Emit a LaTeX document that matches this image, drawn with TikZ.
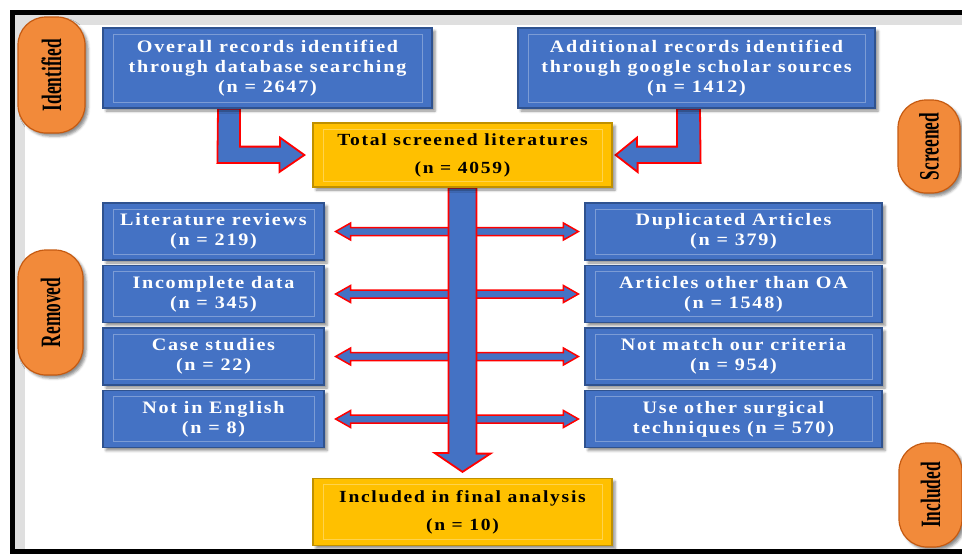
\documentclass[tikz,border=0pt]{standalone}
\usepackage{fontspec}
\setmainfont{Liberation Serif}
\newfontfamily\boxfont[LetterSpace=10, FakeStretch=1.15]{Liberation Serif}
\newfontfamily\pillfont[FakeStretch=0.62]{Liberation Serif}
\usetikzlibrary{calc,shadows.blur}
\pgfdeclarelayer{background}
\pgfsetlayers{background,main}
\definecolor{boxblue}{HTML}{4472C4}
\definecolor{boxedge}{HTML}{2F528F}
\definecolor{gold}{HTML}{FFC000}
\definecolor{goldedge}{HTML}{BF9000}
\definecolor{pillorange}{HTML}{F28A3A}
\definecolor{pilledge}{HTML}{C55A11}
\tikzstyle{blk}=[draw=boxedge, fill=boxblue, line width=1.2pt,
    text=white, align=center, minimum height=57pt,
    font=\boxfont\bfseries\fontsize{17.5}{20}\selectfont,
    blur shadow={shadow xshift=3pt, shadow yshift=-3pt,
      shadow blur radius=2.5pt, shadow opacity=45},
    path picture={\draw[white, opacity=.3, line width=1pt]
      ([shift={(10pt,-6pt)}]path picture bounding box.north west) rectangle
      ([shift={(-10pt,6pt)}]path picture bounding box.south east);}]
\tikzstyle{lblk}=[blk, minimum width=221pt]
\tikzstyle{rblk}=[blk, minimum width=297pt]
\tikzstyle{gblk}=[blk, draw=goldedge, fill=gold, text=black,
    minimum width=299pt,
    font=\boxfont\bfseries\fontsize{17}{28}\selectfont]
\tikzstyle{pill}=[draw=pilledge, fill=pillorange, line width=1.2pt,
    rounded corners=28pt, rotate=90, inner sep=0pt,
    font=\pillfont\bfseries\fontsize{28}{30}\selectfont,
    blur shadow={shadow xshift=3pt, shadow yshift=-3pt,
      shadow blur radius=2.5pt, shadow opacity=45}]
\tikzstyle{fat}=[fill=boxblue, draw=red, line width=1.8pt, line join=miter]
\def\rowgap{62.5}
% two-headed arrow between a left and a right box
\newcommand\twoway[2]{%
  \filldraw[fat, line width=1.5pt] let \p1=([xshift=11pt]#1.east),
    \p2=([xshift=-6pt]#2.west) in
    (\x1,\y1) -- (\x1+15pt,\y1+8.5pt) -- (\x1+15pt,\y1+4pt)
    -- (\x2-15pt,\y1+4pt) -- (\x2-15pt,\y1+8.5pt) -- (\x2,\y1)
    -- (\x2-15pt,\y1-8.5pt) -- (\x2-15pt,\y1-4pt)
    -- (\x1+15pt,\y1-4pt) -- (\x1+15pt,\y1-8.5pt) -- cycle;}

\begin{document}
\begin{tikzpicture}[x=1pt, y=-1pt]
    \useasboundingbox (0,0) rectangle (962,554);

    \node (overall) [blk, minimum width=329pt, minimum height=80pt] at (267.5,68)
      {Overall records identified\\through database searching\\(n = 2647)};
    \path (overall)+(429,0) node (additional) [blk, minimum width=357pt,
      minimum height=80pt] {Additional records identified\\through google scholar sources\\(n = 1412)};
    \node (total) [gblk, minimum height=64pt] at (462.5,155)
      {Total screened literatures\\(n = 4059)};

    \node (lit) [lblk] at (213.5,231.5) {Literature reviews\\(n = 219)};
    \path (lit)+(0,\rowgap) node (incomplete) [lblk] {Incomplete data\\(n = 345)};
    \path (incomplete)+(0,\rowgap) node (cases) [lblk] {Case studies\\(n = 22)};
    \path (cases)+(0,\rowgap) node (english) [lblk] {Not in English\\(n = 8)};

    \path (lit)+(520,0) node (dup) [rblk] {Duplicated Articles\\(n = 379)};
    \path (dup)+(0,\rowgap) node (oa) [rblk] {Articles other than OA\\(n = 1548)};
    \path (oa)+(0,\rowgap) node (criteria) [rblk] {Not match our criteria\\(n = 954)};
    \path (criteria)+(0,\rowgap) node (surgical) [rblk] {Use other surgical\\techniques (n = 570)};

    \node (final) [gblk, minimum height=67pt] at (462.5,512)
      {Included in final analysis\\(n = 10)};

    \node (identified) [pill, minimum width=116pt, minimum height=67pt] at (51.5,75) {Identified};
    \node (screened) [pill, minimum width=93pt, minimum height=62pt] at (929,146.5) {Screened};
    \node (removed) [pill, minimum width=125pt, minimum height=65pt] at (50.5,312.5) {Removed};
    \node (included) [pill, minimum width=104pt, minimum height=63pt] at (930.5,495) {Included};

    \begin{pgfonlayer}{background}
      % frame
      \fill[gray!25] (15,15) rectangle (962,25);
      \fill[gray!25] (15,15) rectangle (25,549);
      \draw[line width=5pt] (12.5,12.5) rectangle (990,551.5);
      % removed records
      \twoway{lit}{dup}
      \twoway{incomplete}{oa}
      \twoway{cases}{criteria}
      \twoway{english}{surgical}
      % main flow
      \filldraw[fat] ([xshift=-14pt]total.south) -- ++(28,0) -- ++(0,266)
        -- ++(14,0) -- ([yshift=6pt]final.north) -- ++(-28,-19) -- ++(14,0) -- cycle;
      \filldraw[fat] ([xshift=-49.5pt]overall.south) -- ++(22,0) -- ++(0,38)
        -- ++(40,0) -- ++(0,-9) -- ([xshift=-8pt]total.west) -- ++(-25,17)
        -- ++(0,-9) -- ++(-62,0) -- cycle;
      \filldraw[fat] ([xshift=3.5pt]additional.south) -- ++(-23,0) -- ++(0,38)
        -- ++(-40,0) -- ++(0,-9) -- ([xshift=3pt]total.east) -- ++(22,17)
        -- ++(0,-9) -- ++(63,0) -- cycle;
    \end{pgfonlayer}
\end{tikzpicture}
\end{document}
